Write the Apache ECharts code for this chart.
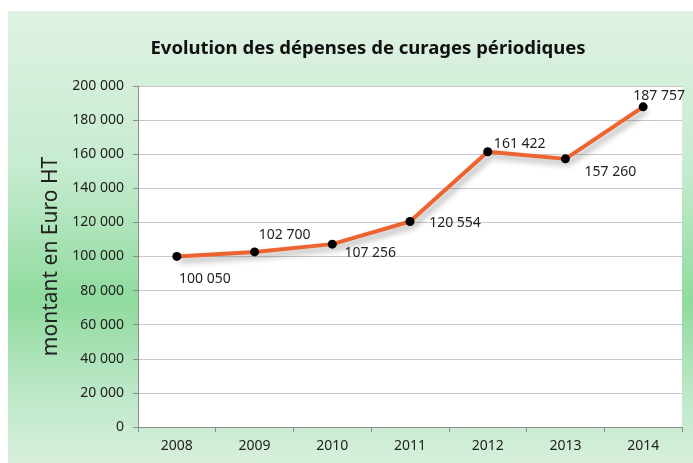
<!DOCTYPE html>
<html>
<head>
<meta charset="utf-8">
<script src="https://cdn.jsdelivr.net/npm/echarts@6/dist/echarts.min.js"></script>
<style>
  html, body { margin: 0; padding: 0; background: #fff; }
  #chart {
    position: absolute;
    left: 8px;
    top: 11px;
    width: 685px;
    height: 452px;
    background: linear-gradient(to bottom, #dff2e3 0%, #c6ebcf 35%, #8fdb9e 64%, #b8e6c3 82%, #d8f0dc 100%);
  }
</style>
</head>
<body>
<div id="chart"></div>
<script>
// données
const years = ['2008', '2009', '2010', '2011', '2012', '2013', '2014'];
const montants = [100050, 102700, 107256, 120554, 161422, 157260, 187757];
// décalage des étiquettes (style)
const labelOffsets = [[28, 23], [30, -17], [38, 9], [45, 2], [32, -8], [45, 13], [16, -11]];

const fmt = (v) => String(v).replace(/\B(?=(\d{3})+(?!\d))/g, ' ');
const font = 'Noto Sans, sans-serif';

const chart = echarts.init(document.getElementById('chart'));

const option = {
  backgroundColor: 'transparent',
  animation: false,
  title: {
    text: 'Evolution des dépenses de curages périodiques',
    left: 355,
    top: 23,
    textAlign: 'center',
    textStyle: { fontFamily: font, fontSize: 18.5, fontWeight: 'bold', color: '#111' }
  },
  grid: {
    left: 130,
    right: 11,
    top: 75,
    bottom: 36,
    show: true,
    backgroundColor: '#fff',
    borderWidth: 0
  },
  xAxis: {
    type: 'category',
    data: years,
    boundaryGap: true,
    axisLine: { lineStyle: { color: '#8c8c8c', width: 1 } },
    axisTick: { show: true, length: 5, lineStyle: { color: '#8c8c8c' } },
    axisLabel: { fontFamily: font, fontSize: 14, color: '#222', margin: 12 }
  },
  yAxis: {
    type: 'value',
    min: 0,
    max: 200000,
    interval: 20000,
    name: 'montant en Euro HT',
    nameLocation: 'middle',
    nameGap: 74,
    nameTextStyle: { fontFamily: font, fontSize: 21, color: '#222' },
    axisLine: { show: true, lineStyle: { color: '#8c8c8c', width: 1 } },
    axisTick: { show: true, length: 5, lineStyle: { color: '#8c8c8c' } },
    axisLabel: { fontFamily: font, fontSize: 14, color: '#222', margin: 14, formatter: fmt },
    splitLine: { lineStyle: { color: '#c8c8c8', width: 1 } }
  },
  series: [
    {
      type: 'line',
      data: montants.map((v, i) => ({
        value: v,
        label: { offset: labelOffsets[i] }
      })),
      symbol: 'circle',
      symbolSize: 9,
      itemStyle: { color: '#000' },
      lineStyle: {
        color: '#ee6430',
        width: 4,
        shadowColor: 'rgba(0,0,0,0.35)',
        shadowBlur: 6,
        shadowOffsetX: 3,
        shadowOffsetY: 4
      },
      label: {
        show: true,
        position: 'inside',
        align: 'center',
        verticalAlign: 'middle',
        fontFamily: font,
        fontSize: 14,
        color: '#222',
        formatter: (p) => fmt(p.value)
      },
      z: 3
    }
  ]
};

chart.setOption(option);
</script>
</body>
</html>
